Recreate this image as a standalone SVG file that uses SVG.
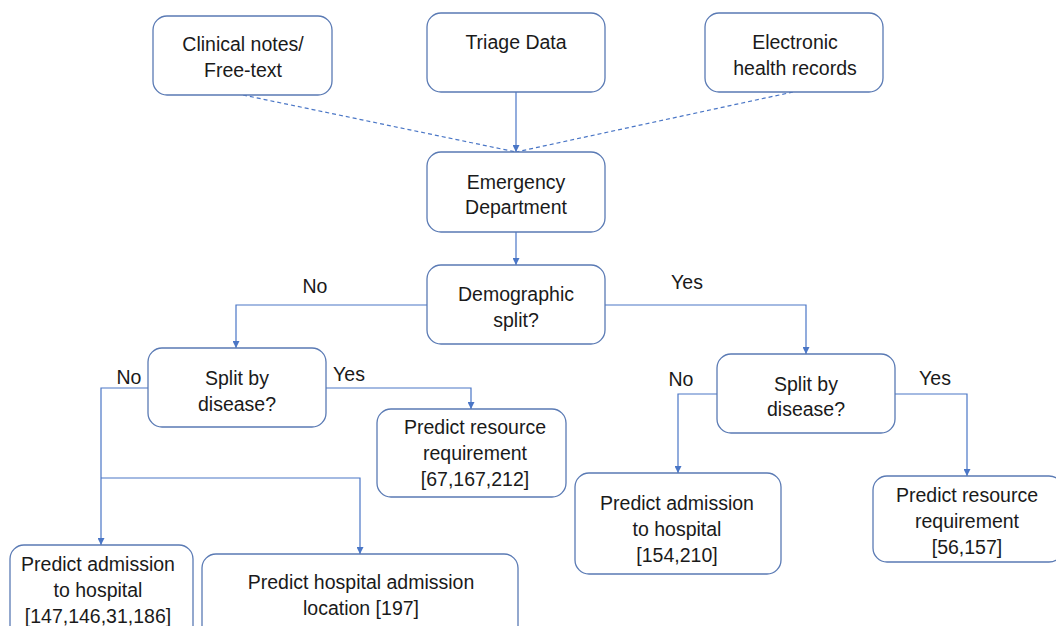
<svg xmlns="http://www.w3.org/2000/svg" width="1056" height="626" viewBox="0 0 1056 626">
  <style>
    .box { fill: #ffffff; stroke: #5a7ab4; stroke-width: 1.3; }
    .lbl { font-family: "Liberation Sans", Arial, sans-serif; font-size: 19.5px; fill: #1a1a1a; text-anchor: middle; dominant-baseline: central; }
    .edge { fill: none; stroke: #4a76c6; stroke-width: 1.2; }
    .dash { stroke-dasharray: 4 3; }
  </style>
  <defs>
    <marker id="arrow" viewBox="0 0 10 10" refX="10" refY="5" markerWidth="7" markerHeight="7" markerUnits="userSpaceOnUse" orient="auto">
      <path d="M0,0 L10,5 L0,10 z" fill="#4a76c6"/>
    </marker>
  </defs>
  <rect width="1056" height="626" fill="#ffffff"/>

  <!-- connectors -->
  <g id="connectors">
    <path class="edge dash" d="M243,95 L516,152"/>
    <path class="edge dash" d="M793,92 L516,152"/>
    <path class="edge" d="M516,92 L516,152" marker-end="url(#arrow)"/>
    <path class="edge" d="M516,232 L516,265" marker-end="url(#arrow)"/>
    <path class="edge" d="M427,305 L236,305 L236,348" marker-end="url(#arrow)"/>
    <path class="edge" d="M605,305 L806,305 L806,354" marker-end="url(#arrow)"/>
    <path class="edge" d="M148,388 L101,388 L101,545" marker-end="url(#arrow)"/>
    <path class="edge" d="M101,478 L360,478 L360,554" marker-end="url(#arrow)"/>
    <path class="edge" d="M326,388 L471,388 L471,409" marker-end="url(#arrow)"/>
    <path class="edge" d="M717,394 L678,394 L678,473" marker-end="url(#arrow)"/>
    <path class="edge" d="M895,394 L967,394 L967,476" marker-end="url(#arrow)"/>
    <text class="lbl" x="315" y="286">No</text>
    <text class="lbl" x="687" y="282">Yes</text>
    <text class="lbl" x="129" y="377">No</text>
    <text class="lbl" x="349" y="374">Yes</text>
    <text class="lbl" x="681" y="379">No</text>
    <text class="lbl" x="935" y="378">Yes</text>
  </g>

  <g id="clinical-notes">
    <rect class="box" x="153" y="16" width="179" height="79" rx="14"/>
    <text class="lbl" x="243" y="44">Clinical notes/</text>
    <text class="lbl" x="243" y="70">Free-text</text>
  </g>
  <g id="triage-data">
    <rect class="box" x="427" y="13" width="178" height="79" rx="14"/>
    <text class="lbl" x="516" y="42">Triage Data</text>
  </g>
  <g id="ehr">
    <rect class="box" x="705" y="13" width="178" height="79" rx="14"/>
    <text class="lbl" x="795" y="42">Electronic</text>
    <text class="lbl" x="795" y="68">health records</text>
  </g>
  <g id="emergency-department">
    <rect class="box" x="427" y="152" width="178" height="80" rx="14"/>
    <text class="lbl" x="516" y="182">Emergency</text>
    <text class="lbl" x="516" y="207">Department</text>
  </g>
  <g id="demographic-split">
    <rect class="box" x="427" y="265" width="178" height="79" rx="14"/>
    <text class="lbl" x="516" y="294">Demographic</text>
    <text class="lbl" x="516" y="320">split?</text>
  </g>
  <g id="split-disease-left">
    <rect class="box" x="148" y="348" width="178" height="79" rx="14"/>
    <text class="lbl" x="237" y="378">Split by</text>
    <text class="lbl" x="237" y="404">disease?</text>
  </g>
  <g id="split-disease-right">
    <rect class="box" x="717" y="354" width="178" height="79" rx="14"/>
    <text class="lbl" x="806" y="384">Split by</text>
    <text class="lbl" x="806" y="409">disease?</text>
  </g>
  <g id="resource-left">
    <rect class="box" x="377" y="409" width="189" height="88" rx="14"/>
    <text class="lbl" x="475" y="427">Predict resource</text>
    <text class="lbl" x="475" y="453">requirement</text>
    <text class="lbl" x="475" y="479">[67,167,212]</text>
  </g>
  <g id="admission-left">
    <rect class="box" x="10" y="545" width="183" height="100" rx="14"/>
    <text class="lbl" x="98" y="564">Predict admission</text>
    <text class="lbl" x="98" y="590">to hospital</text>
    <text class="lbl" x="98" y="616">[147,146,31,186]</text>
  </g>
  <g id="admission-location">
    <rect class="box" x="202" y="554" width="316" height="90" rx="14"/>
    <text class="lbl" x="361" y="582">Predict hospital admission</text>
    <text class="lbl" x="361" y="608">location [197]</text>
  </g>
  <g id="admission-right">
    <rect class="box" x="575" y="473" width="206" height="101" rx="14"/>
    <text class="lbl" x="677" y="503">Predict admission</text>
    <text class="lbl" x="677" y="529">to hospital</text>
    <text class="lbl" x="677" y="555">[154,210]</text>
  </g>
  <g id="resource-right">
    <rect class="box" x="873" y="476" width="190" height="86" rx="14"/>
    <text class="lbl" x="967" y="495">Predict resource</text>
    <text class="lbl" x="967" y="521">requirement</text>
    <text class="lbl" x="967" y="547">[56,157]</text>
  </g>
</svg>
